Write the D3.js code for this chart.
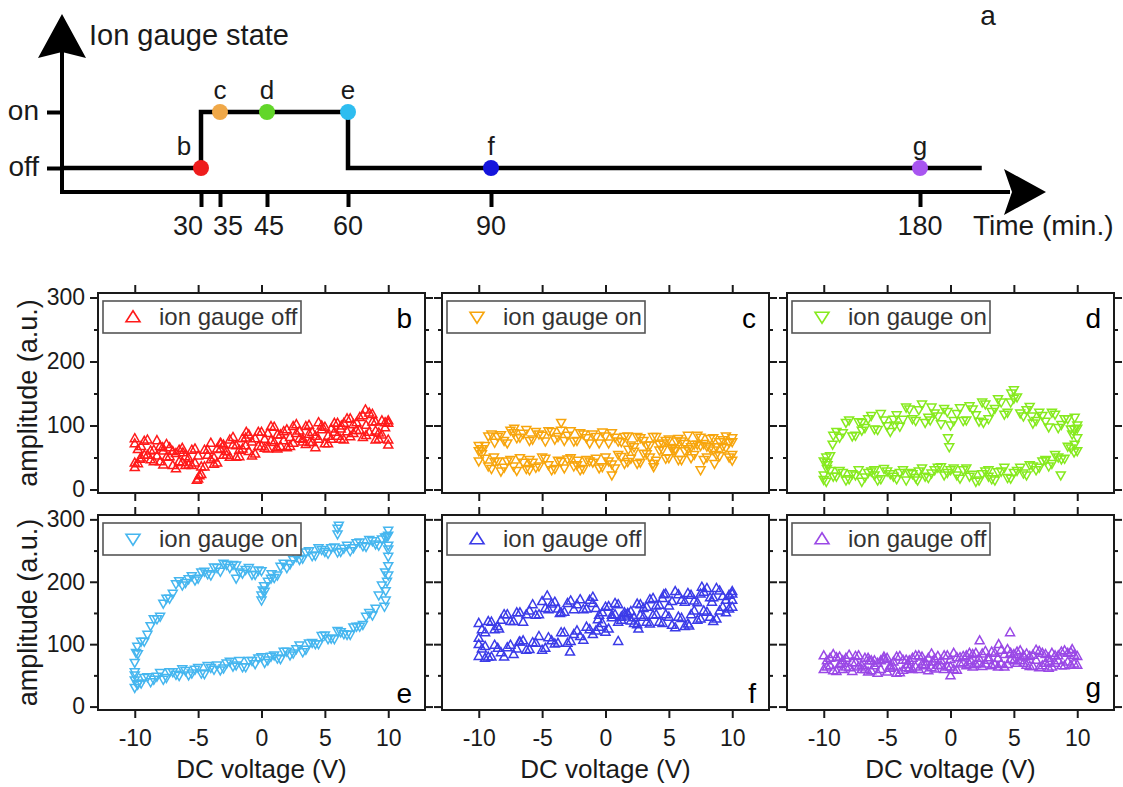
<!DOCTYPE html>
<html><head><meta charset="utf-8">
<script src="https://cdn.jsdelivr.net/npm/d3@7"></script>
<style>
body{margin:0;background:#fff;}
svg{display:block;font-family:"Liberation Sans",Arial,Helvetica,sans-serif;}
</style>
</head><body>
<svg id="chart" width="1123" height="787"></svg>
<script>
// ---------------- DATA ----------------
// panel a: ion gauge timeline
const timeTicks = [30, 35, 45, 60, 90, 180];
const timeTickLabels = ["30", "35", "45", "60", "90", "180"];
const sampleIds = ["b", "c", "d", "e", "f", "g"];
const sampleTimes = [30, 35, 45, 60, 90, 180];
const sampleStates = ["off", "on", "on", "on", "off", "off"];
const stateTimes = [0, 30, 60, 193];
const stateValues = ["off", "on", "off", "off"];
const stateLabels = ["off", "on"];

// panels b-g: amplitude vs DC voltage
const xTicks = [-10, -5, 0, 5, 10];
const yMajorTicks = [0, 100, 200, 300];
const yMinorTicks = [50, 150, 250];

const voltageA = [-10,-9.5,-9,-8.5,-8,-7.5,-7,-6.5,-6,-5.5,-5,-4.5,-4,-3.5,-3,-2.5,-2,-1.5,-1,-0.5,0,0.5,1,1.5,2,2.5,3,3.5,4,4.5,5,5.5,6,6.5,7,7.5,8,8.5,9,9.5,10];
const voltageB = [-9.75,-9.25,-8.75,-8.25,-7.75,-7.25,-6.75,-6.25,-5.75,-5.25,-4.75,-4.25,-3.75,-3.25,-2.75,-2.25,-1.75,-1.25,-0.75,-0.25,0.25,0.75,1.25,1.75,2.25,2.75,3.25,3.75,4.25,4.75,5.25,5.75,6.25,6.75,7.25,7.75,8.25,8.75,9.25,9.75];

// b: ion gauge off (t = 30 min)
const bSweep1 = [72,68,78,62,68,71,60,62,52,62,53,62,73,64,70,78,69,80,86,80,90,88,98,86,94,99,92,99,90,105,98,95,104,104,111,105,116,120,106,108,104];
const bSweep2 = [42,50,54,44,44,51,38,44,38,38,17,36,47,42,54,51,51,64,60,56,68,64,74,68,66,73,80,71,74,79,72,79,84,78,83,93,82,90,78,86,78];
const bSweep3 = [63,54,61,53,61,52,57,43,49,42,36,54,50,63,60,70,62,69,75,68,79,77,86,77,82,88,79,87,84,94,84,90,95,91,102,93,101,106,89,97];
const bSweep4 = [41,76,47,77,39,66,33,65,39,64,24,62,40,73,54,82,52,81,53,90,65,99,64,91,68,102,75,101,66,100,72,104,79,111,88,113,85,118,79,105];
const bExtra = [[-5.1,15],[-4.9,22],[-10,35],[-10,80],[10,70],[10,108],[8.2,125],[-9.6,48],[-7.8,66],[-6.2,58],[-3.2,72],[-1.2,90],[1.2,66],[3.8,74],[6.3,100],[9,92]];

// c: ion gauge on (t = 35 min)
const cSweep1 = [68,68,86,82,76,92,80,87,76,90,84,91,78,92,84,75,88,80,86,72,83,88,75,82,69,82,76,69,82,72,78,63,75,84,70,81,67,80,74,83,74];
const cSweep2 = [44,48,32,44,34,46,29,42,46,34,50,38,32,43,47,36,30,46,42,33,50,39,54,40,48,40,56,50,45,62,49,60,46,63,54,68,50,61,52,65,54];
const cSweep3 = [63,83,73,85,72,88,81,93,78,86,75,90,82,76,91,76,86,72,82,89,72,81,74,83,66,80,69,82,70,76,63,79,71,66,84,71,79,66,77,73];
const cSweep4 = [55,36,43,28,44,36,49,32,42,36,48,30,45,33,49,38,32,44,48,35,44,33,51,43,59,42,55,40,61,48,65,46,60,49,70,46,64,54,67,50];
const cExtra = [[-3.5,104],[-10,60],[10,80],[10,45],[-7.2,95],[7.5,30],[0.5,22],[-8.8,50],[-6,30],[-2.2,45],[1.8,62],[3.8,35],[5.6,75],[8.6,40]];

// d: ion gauge on (t = 45 min)
const dSweep1 = [44,52,90,88,108,84,104,110,94,118,99,109,98,128,110,124,104,128,114,126,100,118,107,130,116,136,110,126,136,120,142,119,124,103,120,106,120,96,110,94,100];
const dSweep2 = [22,29,20,26,16,22,12,26,22,16,28,20,26,14,24,28,20,25,34,22,30,22,30,20,12,24,20,14,28,18,26,34,22,36,34,46,40,50,48,64,60];
const dSweep3 = [42,84,81,104,83,105,96,115,93,108,90,116,109,125,107,133,112,119,102,121,107,127,108,125,106,133,121,141,117,136,144,114,129,107,115,97,117,101,110,94];
const dSweep4 = [32,20,29,14,24,30,19,28,14,32,24,16,30,26,18,33,18,30,35,26,33,17,33,23,14,28,16,27,34,17,29,25,38,30,44,36,54,47,67,58];
const dExtra = [[10,80],[10,95],[9.8,112],[9.8,70],[9.6,86],[-0.2,80],[-0.1,66],[7.5,45],[-9.8,50],[-9.7,38],[-9.3,70],[-10,15],[-9.8,12],[5,155],[4.8,150],[8.7,22],[-7,92],[-4.4,100],[-1.6,108],[2.6,104],[6.4,114],[-6,30],[-2.6,14],[3,30]];

// e: ion gauge on (t = 60 min)
const eSweep1 = [42,37,47,43,54,46,55,49,57,53,62,52,62,66,61,72,66,63,73,68,79,74,82,76,88,85,98,91,102,100,114,109,121,116,115,128,131,150,157,194,252];
const eSweep2 = [55,104,115,140,144,173,181,201,198,209,205,216,210,222,229,222,226,213,222,211,217,200,206,224,222,235,235,247,241,254,248,254,247,253,249,262,257,267,260,268,274];
const eSweep3 = [36,46,39,48,43,55,51,60,50,59,53,65,59,58,69,64,73,63,73,77,70,80,77,88,82,92,87,101,100,113,108,108,119,115,127,128,144,146,178,215];
const eSweep4 = [84,104,129,140,165,173,196,194,204,202,215,212,223,216,227,227,215,219,211,218,184,205,210,229,228,240,237,249,242,251,245,255,248,258,254,263,256,265,258,271];
const eExtra = [[10,240],[10,225],[10,210],[9.9,200],[9.8,185],[9.8,170],[9.7,160],[10,258],[10,282],[9.9,272],[6,285],[6,276],[6.1,290],[0,170],[0,178],[0.1,186],[0.2,193],[-10,50],[-10,70],[-9.9,86],[-9.8,96],[-10,30],[-9.8,35],[0.8,212],[-2,205]];

// f: ion gauge off (t = 90 min)
const fSweep1 = [134,119,136,129,148,137,151,136,154,147,169,156,168,151,166,156,172,157,166,147,160,147,164,146,153,132,144,133,148,134,144,127,142,133,154,141,152,137,154,151,171];
const fSweep2 = [81,97,80,94,80,99,93,106,92,102,91,111,101,119,102,116,113,128,116,128,120,143,136,151,138,165,158,172,162,174,162,185,171,182,170,181,190,175,186,171,181];
const fSweep3 = [124,137,124,139,148,137,151,148,164,148,158,165,157,152,170,164,156,171,158,151,161,166,144,149,134,147,136,147,136,148,131,144,129,148,139,154,144,141,160,157];
const fSweep4 = [93,80,99,87,95,84,104,91,103,113,94,106,102,119,105,122,107,124,122,134,125,148,139,150,143,164,160,174,163,181,169,180,168,179,167,184,175,190,177,179];
const fExtra = [[-4.6,178],[-1,176],[-10,110],[-10,100],[10,160],[10,185],[1,105],[-2.8,88],[-9.5,78],[7.6,192],[-8.4,125],[-6.8,104],[-3.6,150],[-0.6,140],[2.6,125],[4.6,180],[6.6,130],[8.4,168]];

// g: ion gauge off (t = 180 min)
const gSweep1 = [82,66,79,60,83,71,60,78,66,74,56,72,81,63,78,60,72,85,67,82,64,79,71,86,68,85,75,86,69,92,84,74,85,65,89,70,86,74,90,67,81];
const gSweep2 = [60,78,57,74,63,81,66,56,74,60,78,64,55,75,60,82,66,63,81,60,76,59,81,68,86,65,79,68,91,68,74,90,67,83,63,84,64,82,66,87,67];
const gSweep3 = [74,58,80,64,71,82,60,74,54,76,66,80,59,74,64,80,58,77,74,64,86,69,82,64,78,69,88,64,84,76,88,70,81,91,66,78,70,88,72,83];
const gSweep4 = [64,84,68,78,57,64,78,58,70,80,62,54,75,62,82,68,78,61,66,82,60,79,66,84,70,89,66,78,64,86,70,82,65,75,86,62,82,66,86,69];
const gExtra = [[2.3,106],[4.7,119],[0,50],[3.8,100],[-8.6,70],[-6.4,74],[-3.4,68],[-1.4,72],[1.6,74],[5.8,80],[7.8,72],[9.6,92]];

const panelLegends = ["ion gauge off", "ion gauge on", "ion gauge on", "ion gauge on", "ion gauge off", "ion gauge off"];
const panelColors = ["#ff1a1a", "#f7a50c", "#86ea1e", "#45b6ef", "#3b3be8", "#9a48e6"];
const dotColors = ["#ee1c1c", "#f0a848", "#62d62a", "#2ebdf0", "#1414dc", "#a855f0"];

// ---------------- LAYOUT ----------------
const svg = d3.select("#chart");
const FONT = '"Liberation Sans",Arial,Helvetica,sans-serif';
const ink = "#1a1a1a";

// ===== panel a =====
const tx = d3.scaleLinear().domain([0, 30, 35, 45, 60, 90, 180, 200]).range([62, 201, 220, 267, 348, 491, 920, 1015]);
const ty = d3.scalePoint().domain(stateLabels).range([168, 112]);
const axisY0 = 192;
const ga = svg.append("g");

// y axis + arrow
ga.append("line").attr("x1", tx(0)).attr("x2", tx(0)).attr("y1", axisY0 + 2).attr("y2", 52)
  .attr("stroke", "#000").attr("stroke-width", 4);
ga.append("path").attr("d", `M${tx(0)},14 L${tx(0) + 24},58 L${tx(0)},52 L${tx(0) - 24},58 Z`).attr("fill", "#000");
// x axis + arrow
ga.append("line").attr("x1", tx(0) - 2).attr("x2", 1010).attr("y1", axisY0).attr("y2", axisY0)
  .attr("stroke", "#000").attr("stroke-width", 4);
ga.append("path").attr("d", `M1046,${axisY0} L1004,${axisY0 - 23} L1012,${axisY0} L1004,${axisY0 + 23} Z`).attr("fill", "#000");

// time ticks via d3 axis
const timeAxis = d3.axisBottom(tx).tickValues(timeTicks).tickSizeInner(15).tickSizeOuter(0).tickFormat("");
ga.append("g").attr("transform", `translate(0,${axisY0})`).call(timeAxis)
  .call(g => g.select(".domain").remove())
  .call(g => g.selectAll(".tick line").attr("stroke", "#000").attr("stroke-width", 4));
// tick labels (shifted where they would collide)
const tickLabelShift = {"30": {anchor: "end", dx: 2}, "35": {anchor: "start", dx: -7}, "45": {anchor: "middle", dx: 2}};
ga.selectAll("text.tl").data(timeTicks).join("text").attr("class", "tl")
  .attr("x", (d, i) => tx(d) + ((tickLabelShift[timeTickLabels[i]] || {}).dx || 0))
  .attr("y", 235)
  .attr("text-anchor", (d, i) => (tickLabelShift[timeTickLabels[i]] || {}).anchor || "middle")
  .attr("font-size", 27).attr("fill", ink)
  .text((d, i) => timeTickLabels[i]);
ga.append("text").attr("x", 973).attr("y", 235).attr("font-size", 28).attr("fill", ink).text("Time (min.)");

// state axis ticks/labels
const stateAxis = d3.axisLeft(ty).tickSizeInner(15).tickSizeOuter(0).tickPadding(8).tickFormat(d => d);
ga.append("g").attr("transform", `translate(${tx(0)},0)`).call(stateAxis)
  .call(g => g.select(".domain").remove())
  .call(g => g.selectAll(".tick line").attr("stroke", "#000").attr("stroke-width", 4))
  .call(g => g.selectAll(".tick text").attr("font-size", 28).attr("font-family", FONT).attr("fill", ink).attr("dy", "0.25em"));
ga.append("text").attr("x", 89).attr("y", 45).attr("font-size", 29).attr("fill", ink).text("Ion gauge state");
ga.append("text").attr("x", 988).attr("y", 25).attr("text-anchor", "middle").attr("font-size", 28).attr("fill", ink).text("a");

// state step line
const stateLine = d3.line().x(d => tx(d[0])).y(d => ty(d[1])).curve(d3.curveStepAfter);
ga.append("path").datum(d3.zip(stateTimes, stateValues)).attr("d", stateLine)
  .attr("fill", "none").attr("stroke", "#000").attr("stroke-width", 4.5).attr("stroke-linejoin", "miter");

// sample dots + letters
const dotLabelDx = {b: -17};
const samples = sampleIds.map((id, i) => ({id, t: sampleTimes[i], s: sampleStates[i], c: dotColors[i]}));
ga.selectAll("circle.sd").data(samples).join("circle").attr("class", "sd")
  .attr("cx", d => tx(d.t)).attr("cy", d => ty(d.s)).attr("r", 8).attr("fill", d => d.c);
ga.selectAll("text.sl").data(samples).join("text").attr("class", "sl")
  .attr("x", d => tx(d.t) + (dotLabelDx[d.id] || 0)).attr("y", d => ty(d.s) - 13)
  .attr("text-anchor", "middle").attr("font-size", 26).attr("fill", ink).text(d => d.id);

// ===== panels b-g =====
const colLeft = [98, 442, 787];
const rowTop = [293, 515];
const rowH = [200, 195];
const panelW = 327;

const sweeps = [
  [[voltageA, bSweep1], [voltageA, bSweep2], [voltageB, bSweep3], [voltageB, bSweep4], bExtra],
  [[voltageA, cSweep1], [voltageA, cSweep2], [voltageB, cSweep3], [voltageB, cSweep4], cExtra],
  [[voltageA, dSweep1], [voltageA, dSweep2], [voltageB, dSweep3], [voltageB, dSweep4], dExtra],
  [[voltageA, eSweep1], [voltageA, eSweep2], [voltageB, eSweep3], [voltageB, eSweep4], eExtra],
  [[voltageA, fSweep1], [voltageA, fSweep2], [voltageB, fSweep3], [voltageB, fSweep4], fExtra],
  [[voltageA, gSweep1], [voltageA, gSweep2], [voltageB, gSweep3], [voltageB, gSweep4], gExtra]
];

function triPath(dir, hw, h) {
  const a = h * 0.57, b = h * 0.43;
  return dir === "up" ? `M0,${-a} L${hw},${b} L${-hw},${b} Z` : `M0,${a} L${hw},${-b} L${-hw},${-b} Z`;
}

function styleAxis(g) {
  g.select(".domain").remove();
  g.selectAll(".tick line").attr("stroke", ink).attr("stroke-width", 2);
  g.selectAll(".tick text").attr("font-size", 23).attr("font-family", FONT).attr("fill", ink);
}

sampleIds.forEach((id, i) => {
  const row = Math.floor(i / 3), col = i % 3;
  const left = colLeft[col], top = rowTop[row], h = rowH[row];
  const x = d3.scaleLinear().domain([-12.9, 12.9]).range([left, left + panelW]);
  const y = d3.scaleLinear().domain([-5.5, 307]).range([top + h, top]);
  const g = svg.append("g");
  const color = panelColors[i];
  const dir = sampleStates[i] === "off" ? "up" : "down";

  // points
  const s = sweeps[i];
  let pts = [];
  s.slice(0, 4).forEach(([vs, as]) => { pts = pts.concat(d3.zip(vs, as)); });
  pts = pts.concat(s[4]);
  g.append("g").selectAll("path").data(pts).join("path")
    .attr("transform", d => `translate(${x(d[0])},${y(d[1])})`)
    .attr("d", triPath(dir, 4.5, 8))
    .attr("fill", "none").attr("stroke", color).attr("stroke-width", 1.5);

  // axes: bottom, top, left, right (mirror ticks outward)
  g.append("g").attr("transform", `translate(0,${top + h})`)
    .call(d3.axisBottom(x).tickValues(xTicks).tickSizeInner(8).tickSizeOuter(0).tickPadding(12)
      .tickFormat(row === 1 ? (d => String(d)) : ""))
    .call(styleAxis);
  g.append("g").attr("transform", `translate(0,${top})`)
    .call(d3.axisTop(x).tickValues(xTicks).tickSizeInner(8).tickSizeOuter(0).tickFormat(""))
    .call(styleAxis);
  g.append("g").attr("transform", `translate(${left},0)`)
    .call(d3.axisLeft(y).tickValues(yMajorTicks).tickSizeInner(8).tickSizeOuter(0).tickPadding(5)
      .tickFormat(col === 0 ? (d => String(d)) : ""))
    .call(styleAxis);
  g.append("g").attr("transform", `translate(${left},0)`)
    .call(d3.axisLeft(y).tickValues(yMinorTicks).tickSizeInner(4).tickSizeOuter(0).tickFormat(""))
    .call(styleAxis);
  g.append("g").attr("transform", `translate(${left + panelW},0)`)
    .call(d3.axisRight(y).tickValues(yMajorTicks).tickSizeInner(8).tickSizeOuter(0).tickFormat(""))
    .call(styleAxis);
  g.append("g").attr("transform", `translate(${left + panelW},0)`)
    .call(d3.axisRight(y).tickValues(yMinorTicks).tickSizeInner(4).tickSizeOuter(0).tickFormat(""))
    .call(styleAxis);

  // frame
  g.append("rect").attr("x", left).attr("y", top).attr("width", panelW).attr("height", h)
    .attr("fill", "none").attr("stroke", ink).attr("stroke-width", 2);

  // legend
  const lg = g.append("g").attr("transform", `translate(${left + 5},${top + 8})`);
  lg.append("rect").attr("width", 198).attr("height", 32).attr("fill", "#fff")
    .attr("stroke", "#555").attr("stroke-width", 1.6);
  lg.append("path").attr("transform", "translate(30,16)").attr("d", triPath(dir, 7, 11))
    .attr("fill", "none").attr("stroke", color).attr("stroke-width", 1.6);
  lg.append("text").attr("x", 56).attr("y", 24).attr("font-size", 24).attr("fill", "#333").text(panelLegends[i]);

  // panel letter
  const letterY = row === 0 ? top + 35 : (id === "g" ? top + h - 13 : top + h - 7);
  g.append("text").attr("x", left + panelW - 13).attr("y", letterY).attr("text-anchor", "end")
    .attr("font-size", 28).attr("fill", "#000").text(id);

  // axis titles
  if (col === 0) {
    g.append("text").attr("transform", `translate(37,${top + h / 2}) rotate(-90)`)
      .attr("text-anchor", "middle").attr("font-size", 27).attr("fill", ink).text("amplitude (a.u.)");
  }
  if (row === 1) {
    g.append("text").attr("x", x(0)).attr("y", 778).attr("text-anchor", "middle")
      .attr("font-size", 26).attr("fill", ink).text("DC voltage (V)");
  }
});
</script>
</body></html>
